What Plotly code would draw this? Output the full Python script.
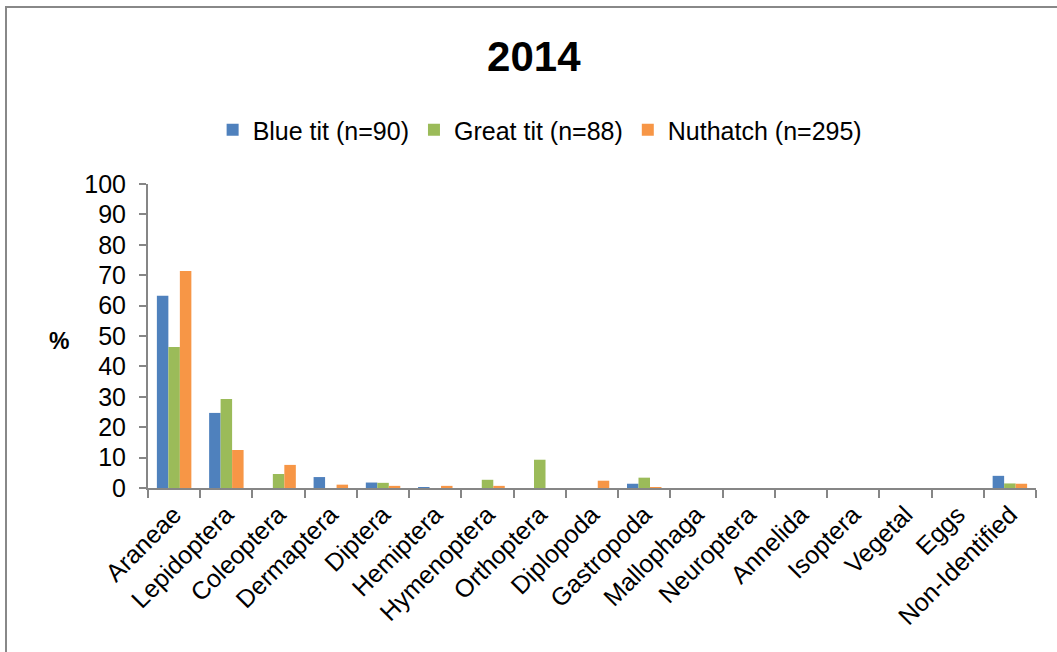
import plotly.graph_objects as go

# Diet composition per prey group, 2014 (% of items)
categories = ["Araneae", "Lepidoptera", "Coleoptera", "Dermaptera", "Diptera",
              "Hemiptera", "Hymenoptera", "Orthoptera", "Diplopoda", "Gastropoda",
              "Mallophaga", "Neuroptera", "Annelida", "Isoptera", "Vegetal", "Eggs",
              "Non-Identified"]
blue_tit = [63.2, 24.7, 0, 3.6, 1.8, 0.2, 0, 0, 0, 1.4, 0, 0, 0, 0, 0, 0, 4.0]
great_tit = [46.4, 29.3, 4.6, 0, 1.7, 0, 2.7, 9.3, 0, 3.4, 0, 0, 0, 0, 0, 0, 1.5]
nuthatch = [71.4, 12.5, 7.6, 1.1, 0.7, 0.7, 0.7, 0, 2.4, 0.2, 0, 0, 0, 0, 0, 0, 1.4]
series_names = ["Blue tit (n=90)", "Great tit (n=88)", "Nuthatch (n=295)"]
y_ticks = list(range(0, 101, 10))

FONT = "Liberation Sans"
AXIS_GREY = "#868686"

fig = go.Figure()
for name, values, color in zip(series_names,
                               [blue_tit, great_tit, nuthatch],
                               ["#4F81BD", "#9BBB59", "#F79646"]):
    fig.add_trace(go.Bar(x=categories, y=values, name=name,
                         marker=dict(color=color, line=dict(width=0))))

fig.update_layout(
    width=1057, height=652,
    paper_bgcolor="white", plot_bgcolor="white",
    margin=dict(l=148, r=21, t=184, b=164),
    barmode="group", bargap=0.34, bargroupgap=0,
    font=dict(family=FONT, color="black", size=24),
    title=dict(text="<b>2014</b>", font=dict(family=FONT, size=42, color="black"),
               x=0.505, xref="container", y=1 - 56 / 652, yref="container",
               xanchor="center", yanchor="middle"),
    legend=dict(orientation="h", xref="container", yref="container",
                x=0.511, y=1 - 130 / 652, xanchor="center", yanchor="middle",
                font=dict(family=FONT, size=25, color="black"),
                itemwidth=30, tracegroupgap=0, bgcolor="rgba(0,0,0,0)"),
    showlegend=True,
)

fig.update_xaxes(
    type="category", tickangle=-45, showline=True, linecolor=AXIS_GREY, linewidth=2,
    ticks="outside", tickson="boundaries", ticklen=8, tickcolor=AXIS_GREY, tickwidth=2,
    showgrid=False, tickfont=dict(family=FONT, size=25, color="black"),
)
fig.update_yaxes(
    range=[0, 100], tickvals=y_ticks, showline=True, linecolor=AXIS_GREY, linewidth=2,
    ticks="outside", ticklen=7, tickcolor=AXIS_GREY, tickwidth=2, showgrid=False,
    zeroline=False, ticklabelstandoff=8,
    tickfont=dict(family=FONT, size=25, color="black"),
)

# "%" axis label, set horizontally to the left of the tick labels
fig.add_annotation(text="<b>%</b>", xref="paper", yref="paper",
                   x=(59 - 148) / 888, y=(488 - 341) / 304, showarrow=False,
                   xanchor="center", yanchor="middle",
                   font=dict(family=FONT, size=23, color="black"))

# Chart frame
fig.add_shape(type="rect", xref="paper", yref="paper",
              x0=(6 - 148) / 888, x1=1.06, y0=-0.8, y1=(488 - 7) / 304,
              line=dict(color="#888888", width=2), fillcolor="rgba(0,0,0,0)",
              layer="below")

fig.write_html("out.html")
